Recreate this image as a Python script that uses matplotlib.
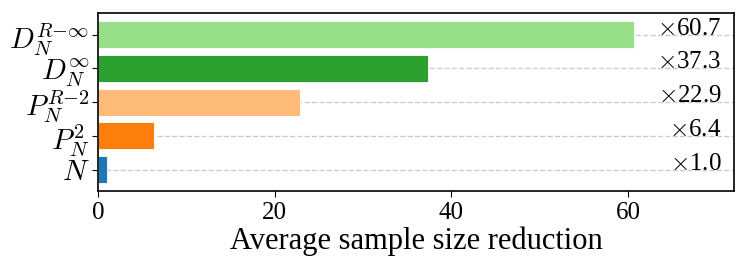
import matplotlib
matplotlib.use("Agg")
import matplotlib.pyplot as plt

# bottom to top
methods = [r"$N$", r"$P_N^2$", r"$P_N^{R{-}2}$", r"$D_N^{\infty}$", r"$D_N^{R{-}\infty}$"]
reduction = [1.0, 6.4, 22.9, 37.3, 60.7]
colors = ["#1f77b4", "#ff7f0e", "#ffbb78", "#2ca02c", "#98df8a"]
xticks = [0, 20, 40, 60]

plt.rcParams["font.family"] = ["Liberation Serif", "DejaVu Serif"]
plt.rcParams["mathtext.fontset"] = "cm"

fig = plt.figure(figsize=(7.47, 2.79), dpi=100)
ax = fig.add_axes([0.131, 0.315, 0.852, 0.638])

ypos = list(range(len(methods)))
ax.set_axisbelow(True)
ax.grid(axis="y", linestyle="--", color="#cccccc", linewidth=1.0)
ax.barh(ypos, reduction, height=0.8, color=colors, edgecolor="white", linewidth=0.6)

for y, v in zip(ypos, reduction):
    ax.text(0.98, y, r"$\times$" + f"{v:.1f}", transform=ax.get_yaxis_transform(),
            ha="right", va="baseline", fontsize=18)

ax.set_xlim(0, 72)
ax.set_xticks(xticks)
ax.set_yticks(ypos)
ax.set_yticklabels(methods)
ax.tick_params(axis="x", labelsize=18, length=4)
ax.tick_params(axis="y", labelsize=21, length=4, pad=2)
ax.set_xlabel("Average sample size reduction", fontsize=22, labelpad=2)
for s in ax.spines.values():
    s.set_linewidth(1.2)

fig.savefig("out.png", dpi=100)
